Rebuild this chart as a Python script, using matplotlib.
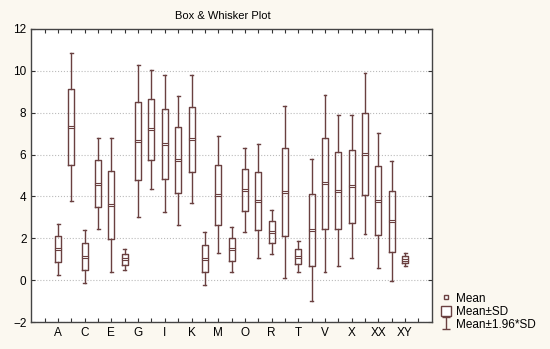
import matplotlib
matplotlib.use('Agg')
import matplotlib.pyplot as plt
import numpy as np
from matplotlib.patches import Patch
from matplotlib.lines import Line2D

plt.rcParams['font.family'] = ['Liberation Sans', 'DejaVu Sans']

# categories (every other one is labelled on the axis)
categories = ['A', 'B', 'C', 'D', 'E', 'F', 'G', 'H', 'I', 'J', 'K', 'L', 'M', 'N',
              'O', 'P', 'R', 'S', 'T', 'U', 'V', 'W', 'X', 'Y', 'XX', 'XZ', 'XY']
shown = ['A', 'C', 'E', 'G', 'I', 'K', 'M', 'O', 'R', 'T', 'V', 'X', 'XX', 'XY']
means = [1.47, 7.32, 1.12, 4.62, 3.60, 1.00, 6.64, 7.20, 6.52, 5.73, 6.73, 1.03, 4.09, 1.47,
         4.31, 3.79, 2.30, 4.20, 1.13, 2.40, 4.63, 4.28, 4.49, 6.04, 3.80, 2.82, 0.99]
sds = [0.62, 1.80, 0.65, 1.12, 1.63, 0.26, 1.85, 1.44, 1.67, 1.57, 1.56, 0.64, 1.43, 0.54,
       1.02, 1.39, 0.54, 2.10, 0.37, 1.72, 2.16, 1.84, 1.74, 1.96, 1.65, 1.46, 0.16]

col = '#6a4040'
# flat rectangle used for the mean mark
mean_marker = [(-1, -0.35), (1, -0.35), (1, 0.35), (-1, 0.35), (-1, -0.35)]

fig, ax = plt.subplots(figsize=(5.5, 3.49), dpi=100)
fig.patch.set_facecolor('#fbf8f0')
ax.set_facecolor('white')
fig.subplots_adjust(left=0.057, right=0.785, top=0.917, bottom=0.077)

stats = []
for name, m, s in zip(categories, means, sds):
    stats.append(dict(label=name, mean=m, med=m, q1=m - s, q3=m + s,
                      whislo=m - 1.96 * s, whishi=m + 1.96 * s, fliers=[]))

pos = np.arange(1, len(categories) + 1)
ax.bxp(stats, positions=pos, widths=0.45, showmeans=True, showfliers=False,
       boxprops=dict(color=col, linewidth=1),
       whiskerprops=dict(color=col, linewidth=1),
       capprops=dict(color=col, linewidth=1),
       medianprops=dict(linewidth=0),
       meanprops=dict(marker=mean_marker, markersize=5, markerfacecolor='white',
                      markeredgecolor=col, markeredgewidth=0.8),
       capwidths=0.22)

ax.set_xlim(-1, len(categories) + 2)
ax.set_ylim(-2, 12)
ax.set_yticks(np.arange(-2, 13, 2))
ax.set_xticks(np.arange(0, len(categories) + 2))
labels = [''] + [c if c in shown else '' for c in categories] + ['']
ax.set_xticklabels(labels)
ax.tick_params(direction='in', top=True, right=True, length=3, labelsize=8.5, color='#333333')
ax.yaxis.grid(True, linestyle=':', color='#bbbbbb', linewidth=0.8)
ax.set_axisbelow(True)
for sp in ax.spines.values():
    sp.set_color('#444444')
    sp.set_linewidth(1)

fig.text(0.405, 0.955, 'Box & Whisker Plot', ha='center', va='center', fontsize=8)

eb = ax.errorbar([np.nan], [np.nan], yerr=[1], fmt='none', ecolor=col, capsize=3, elinewidth=1)
handles = [Line2D([], [], linestyle='none', marker='s', markersize=3,
                  markerfacecolor='white', markeredgecolor=col),
           Patch(facecolor='white', edgecolor=col),
           eb]
fig.legend(handles, ['Mean', 'Mean±SD', 'Mean±1.96*SD'], loc='upper left',
           bbox_to_anchor=(0.793, 0.175), frameon=False, fontsize=8.5,
           handlelength=0.9, handleheight=1.0, handletextpad=0.35, labelspacing=0.05,
           borderaxespad=0)

plt.savefig('out.png', dpi=100, facecolor=fig.get_facecolor())
